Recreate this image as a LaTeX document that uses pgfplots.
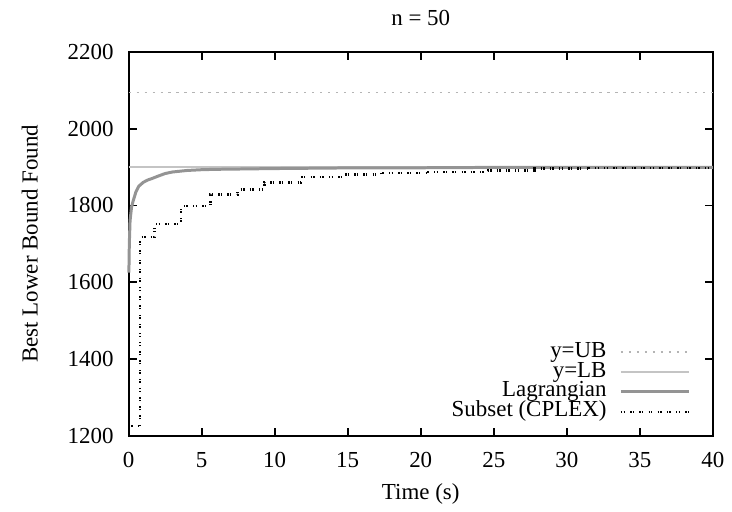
\documentclass[border=0pt]{standalone}
\usepackage{fontspec}
\setmainfont{Liberation Serif}
\usepackage{pgfplots}
\pgfplotsset{compat=1.18}

\definecolor{ubgray}{HTML}{B4B4B4}
\definecolor{lbgray}{HTML}{C4C4C4}
\definecolor{laggray}{HTML}{949494}

\begin{document}
\fontsize{11.5}{13.8}\selectfont
\begin{tikzpicture}
\begin{axis}[
    scale only axis,
    width=293pt, height=192.5pt,
    xmin=0, xmax=40, ymin=1200, ymax=2200,
    xtick={0,5,...,40},
    ytick={1200,1400,...,2200},
    /pgf/number format/1000 sep={},
    /pgf/number format/assume math mode=true,
    tick align=inside,
    major tick length=4pt,
    axis line style={line width=1pt},
    every tick/.style={black, line width=0.9pt},
    xticklabel style={yshift=-4.5pt},
    yticklabel style={xshift=-3.5pt},
    title={n = 50},
    every axis title shift=0pt,
    title style={at={(axis description cs:0.5,1.088)}, anchor=center, yshift=0pt},
    xlabel={Time (s)},
    xlabel style={at={(axis description cs:0.5,-0.1506)}, anchor=center},
    ylabel={Best Lower Bound Found},
    ylabel style={at={(axis description cs:-0.169,0.5)}, anchor=center, rotate=0},
    clip=false,
    legend plot pos=right,
    legend image code/.code={\draw[#1] (0pt,0pt) -- (34pt,0pt);},
    legend style={at={(axis description cs:0.962,0.035)}, anchor=south east,
        draw=none, fill=none, inner sep=0pt,
        nodes={inner sep=0.5pt, text height=7pt, text depth=2pt},
        column sep=6pt},
    legend cell align=right,
]
% upper bound
\addplot[ubgray, line width=0.6pt, dash pattern=on 1.2pt off 2.8pt] coordinates {(0,2095) (40,2095)};
\addlegendentry{y=UB}
% lower bound
\addplot[lbgray, line width=0.6pt] coordinates {(0,1900) (40,1900)};
\addlegendentry{y=LB}
% Lagrangian
\addplot[laggray, line width=1.5pt] coordinates {
    (0.02,1625) (0.05,1700) (0.1,1760) (0.2,1795) (0.3,1810) (0.5,1835)
    (0.7,1850) (1.0,1860) (1.3,1866) (1.6,1870) (2.0,1876) (2.5,1883)
    (3,1887) (3.5,1889) (4,1891) (5,1893) (6,1894) (8,1895) (10,1896)
    (13,1897) (16,1898) (20,1898) (25,1899) (30,1899) (40,1899)
};
\addlegendentry{Lagrangian}
% Subset (CPLEX)
\addplot[black, line width=1.2pt, const plot,
    dash pattern=on 0.7pt off 0.6pt on 0.7pt off 2.6pt] coordinates {
    (0,1225) (0.8,1717) (1.78,1751) (3.6,1798) (5.6,1828) (7.45,1841)
    (9.3,1860) (11.8,1874) (14.9,1880) (17.3,1885) (20.5,1887)
    (24.6,1891) (27.8,1896) (31.5,1898) (40,1898)
};
\addlegendentry{Subset (CPLEX)}
% page frame matching the reference proportions
\path (rel axis cs:-0.2201,-0.1974) rectangle (rel axis cs:1.0290,1.1351);
\end{axis}
\end{tikzpicture}
\end{document}
